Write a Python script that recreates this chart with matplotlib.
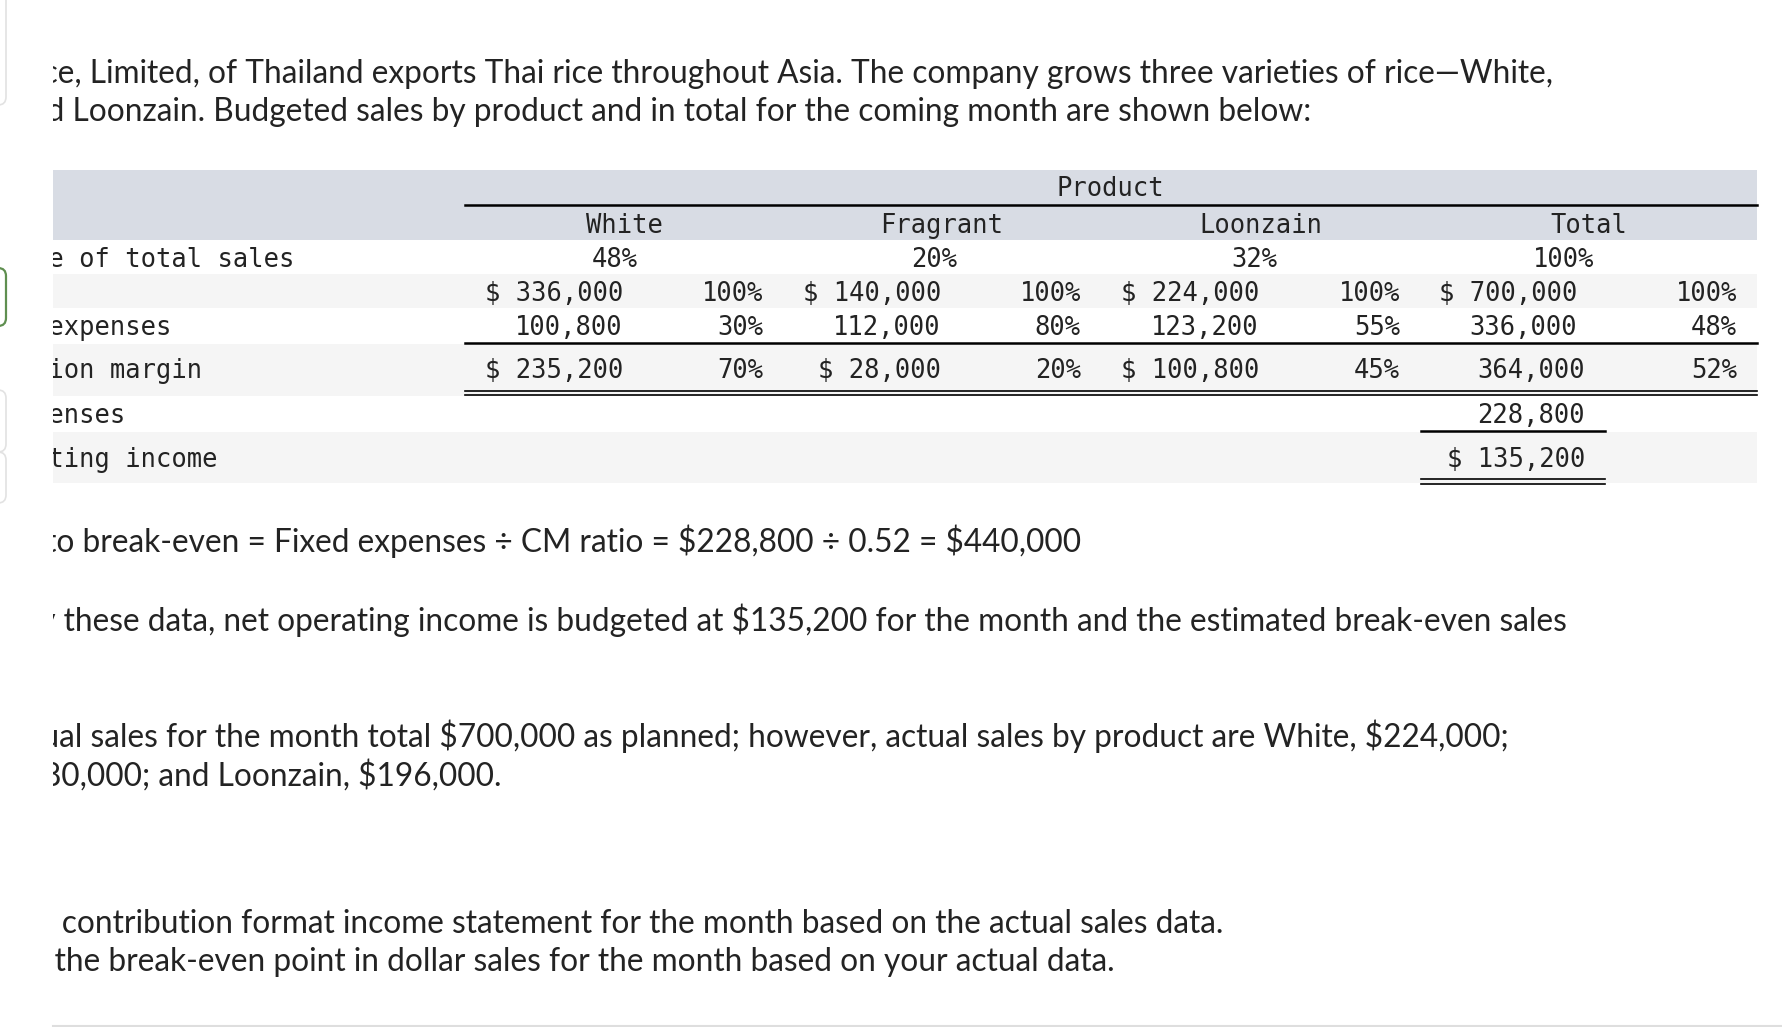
import matplotlib
matplotlib.use("Agg")
import matplotlib.pyplot as plt
from matplotlib.patches import FancyBboxPatch, Rectangle

# ---- table data ----
products = ["White", "Fragrant", "Loonzain", "Total"]
pct_of_total = [48, 20, 32, 100]
sales = [336000, 140000, 224000, 700000]
variable_exp = [100800, 112000, 123200, 336000]
contrib_margin = [235200, 28000, 100800, 364000]
sales_pct = [100, 100, 100, 100]
variable_pct = [30, 80, 55, 48]
cm_pct = [70, 20, 45, 52]
fixed_expenses = 228800
net_income = 135200
row_labels = ["Percentage of total sales", "Sales", "Variable expenses",
              "Contribution margin", "Fixed expenses", "Net operating income"]

# ---- paragraph text (full line, first visible piece) ----
intro_lines = [
    ("Gold Star Rice, Limited, of Thailand exports Thai rice throughout Asia. "
     "The company grows three varieties of rice\u2014White,", "e, Limited"),
    ("Fragrant, and Loonzain. Budgeted sales by product and in total for the "
     "coming month are shown below:", "Loonzain."),
]
after_lines = [
    ("Dollar sales to break-even = Fixed expenses \u00f7 CM ratio = $228,800 "
     "\u00f7 0.52 = $440,000", "o break-even"),
    ("As shown by these data, net operating income is budgeted at $135,200 for "
     "the month and the estimated break-even sales", "these data"),
    ("Assume that actual sales for the month total $700,000 as planned; however, "
     "actual sales by product are White, $224,000;", "al sales"),
    ("Fragrant, $280,000; and Loonzain, $196,000.", "0,000;"),
    ("1. Prepare a contribution format income statement for the month based on "
     "the actual sales data.", "contribution"),
    ("2. Compute the break-even point in dollar sales for the month based on "
     "your actual data.", "the break-even"),
]

# ---- layout (pixels) ----
W, H = 1782, 1027
CLIP_X = 53
intro_base = [83, 121]
intro_x = [58, 72]
after_base = [552, 631, 747, 786, 933, 971]
after_x = [56, 64, 59, 61, 62, 55]

band_right = 1757
rule_left = 465
amt_right = [623, 941, 1259, 1577]
pct_right = [763, 1081, 1400, 1737]
head_center = [624, 942, 1261, 1589]
share_center = [615, 934, 1254, 1564]
total_right = 1585
row_base = [267, 301, 335, 378, 423, 467]

ink = "#232323"
mono = "DejaVu Sans Mono"
mono_size = 18.4

fig = plt.figure(figsize=(W / 100, H / 100), dpi=100)
fig.patch.set_facecolor("white")
bg = fig.add_axes([0, 0, 1, 1])
bg.set_xlim(0, W)
bg.set_ylim(H, 0)
bg.axis("off")

ax = fig.add_axes([CLIP_X / W, 0, 1 - CLIP_X / W, 1])
ax.set_xlim(CLIP_X, W)
ax.set_ylim(H, 0)
ax.axis("off")

# left page furniture
for (y0, h, ec, lw) in [(-30, 135, "#e2e2e2", 1.2), (268, 58, "#5f8f50", 1.6),
                        (390, 62, "#e2e2e2", 1.2), (452, 51, "#e2e2e2", 1.2)]:
    bg.add_patch(FancyBboxPatch((-40, y0), 46, h,
                                boxstyle="round,pad=0,rounding_size=8",
                                fc="none", ec=ec, lw=lw))
bg.plot([CLIP_X, W], [1026, 1026], color="#dedede", lw=1.5)

# table bands
bg.add_patch(Rectangle((CLIP_X, 170), band_right - CLIP_X, 70, color="#d8dce4", lw=0))
for y0, y1 in [(274, 308), (344, 396), (432, 483)]:
    bg.add_patch(Rectangle((CLIP_X, y0), band_right - CLIP_X, y1 - y0, color="#f5f5f5", lw=0))

# rules
bg.plot([rule_left, band_right], [205, 205], color="black", lw=1.8)
bg.plot([rule_left, band_right], [342.5, 342.5], color="black", lw=1.8)
for y in (390.5, 395):
    bg.plot([rule_left, band_right], [y, y], color="black", lw=1.2)
bg.plot([1421, 1605], [431, 431], color="black", lw=1.8)
for y in (479, 483.5):
    bg.plot([1421, 1605], [y, y], color="black", lw=1.2)

# prose
renderer = fig.canvas.get_renderer()
prose_kw = dict(family="Lato", color=ink, va="baseline", ha="left",
                clip_on=True, parse_math=False)

first_rest = intro_lines[0][0][intro_lines[0][0].find(intro_lines[0][1]):]
probe = ax.text(0, 0, first_rest, fontsize=20, **prose_kw)
w = probe.get_window_extent(renderer).width
probe.remove()
prose_size = 20 * (1558 - intro_x[0]) / w


def prose_line(text, start, x, base):
    rest = text[text.find(start):]
    t_full = ax.text(0, base, text, fontsize=prose_size, **prose_kw)
    t_rest = ax.text(0, base, rest, fontsize=prose_size, **prose_kw)
    off = t_full.get_window_extent(renderer).width - t_rest.get_window_extent(renderer).width
    t_rest.remove()
    t_full.set_x(x - off)


for (txt, st), x, b in zip(intro_lines, intro_x, intro_base):
    prose_line(txt, st, x, b)
for (txt, st), x, b in zip(after_lines, after_x, after_base):
    prose_line(txt, st, x, b)

# table text
tk = dict(family=mono, fontsize=mono_size, color=ink, va="baseline",
          clip_on=True, parse_math=False)
ax.text(1110, 196, "Product", ha="center", **tk)
for name, xc in zip(products, head_center):
    ax.text(xc, 233, name, ha="center", **tk)

char_w = 15.6
label_x = 50 - 9 * char_w
for lab, b in zip(row_labels, row_base):
    ax.text(label_x, b, lab, ha="left", **tk)

for i in range(4):
    ax.text(share_center[i], row_base[0], f"{pct_of_total[i]}%", ha="center", **tk)
    ax.text(amt_right[i], row_base[1], f"$ {sales[i]:,}", ha="right", **tk)
    ax.text(pct_right[i], row_base[1], f"{sales_pct[i]}%", ha="right", **tk)
    ax.text(amt_right[i], row_base[2], f"{variable_exp[i]:,}", ha="right", **tk)
    ax.text(pct_right[i], row_base[2], f"{variable_pct[i]}%", ha="right", **tk)
    if i < 3:
        ax.text(amt_right[i], row_base[3], f"$ {contrib_margin[i]:,}", ha="right", **tk)
    else:
        ax.text(total_right, row_base[3], f"{contrib_margin[i]:,}", ha="right", **tk)
    ax.text(pct_right[i], row_base[3], f"{cm_pct[i]}%", ha="right", **tk)

ax.text(total_right, row_base[4], f"{fixed_expenses:,}", ha="right", **tk)
ax.text(total_right, row_base[5], f"$ {net_income:,}", ha="right", **tk)

fig.savefig("out.png", dpi=100, facecolor="white")
